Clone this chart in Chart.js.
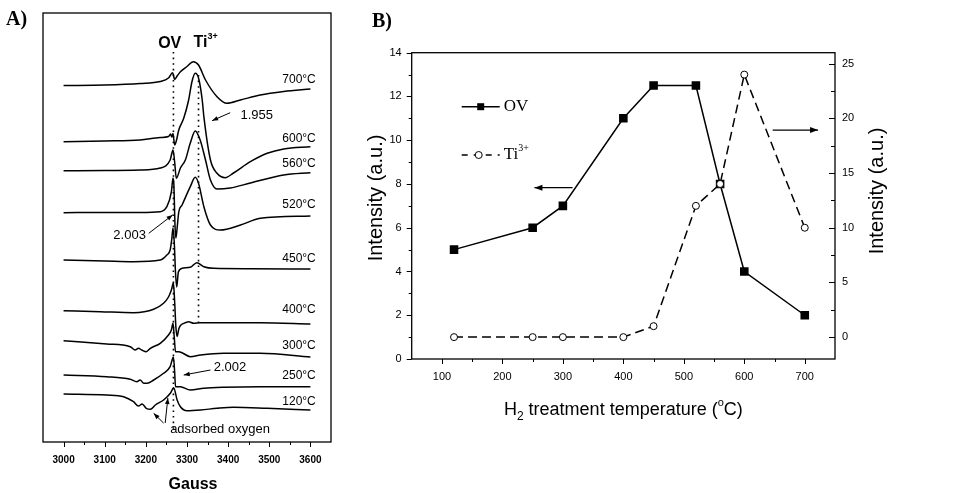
<!DOCTYPE html>
<html><head><meta charset="utf-8">
<script src="https://cdn.jsdelivr.net/npm/chart.js@4/dist/chart.umd.min.js"></script>
<style>
html,body{margin:0;padding:0;background:#fff;}
#wrap{position:relative;width:974px;height:493px;overflow:hidden;background:#fff;}
#ca{position:absolute;left:0;top:0;}
#cb{position:absolute;left:360px;top:0;}
</style></head><body>
<div id="wrap">
<canvas id="ca" width="360" height="493"></canvas>
<canvas id="cb" width="614" height="493"></canvas>
</div>
<script>
// ---------------- DATA: panel A (EPR spectra, Gauss vs. stacked intensity, arbitrary units) ----------------
const spec700 = [[3000,356.5],[3100,357],[3186,358.5],[3235,360.5],[3255,364],[3265,369.3],[3270,362.7],[3276,366],[3284,370.3],[3300,375.5],[3315,380.3],[3328,377],[3345,362],[3373,345.3],[3397,338.7],[3430,342],[3478,347],[3535,350.5],[3600,353]];
const spec600 = [[3000,300.3],[3100,301],[3186,302],[3235,304.5],[3255,305.5],[3260,308],[3263,305],[3266,308.5],[3270,297],[3274,301],[3280,312],[3292,323.7],[3304,342],[3312,360.3],[3320,368.7],[3328,364],[3337,342],[3341,325.3],[3357,282],[3373,268.7],[3393,264.3],[3413,269],[3454,280.3],[3495,288.7],[3535,293],[3600,295.3]];
const spec560 = [[3000,271.3],[3100,271.5],[3186,272],[3235,274],[3259,282],[3266,292],[3270,280],[3274,263.7],[3284,274],[3296,282],[3308,299],[3320,311],[3332,302],[3345,282],[3357,262],[3373,253],[3405,254],[3454,259],[3535,267],[3600,269.3]];
const spec520 = [[3000,229.3],[3100,229.5],[3186,229.5],[3235,230.3],[3251,235.3],[3262,250],[3266,264],[3268,258],[3271,215],[3273,204],[3276,214],[3280,230],[3288,237],[3308,255.3],[3320,264.7],[3328,258.7],[3341,235.3],[3357,217],[3381,212],[3430,217],[3478,223.7],[3600,226]];
const spec450 = [[3000,182],[3100,181],[3170,180.3],[3235,182],[3251,187],[3259,192],[3263,203],[3266,214],[3269,200],[3272,170],[3275,155],[3279,170],[3288,173.7],[3308,174.7],[3324,179.3],[3341,175.3],[3365,173.7],[3454,173.3],[3600,173]];
const spec400 = [[3000,131.3],[3089,130.3],[3170,129.3],[3219,132.7],[3243,138.7],[3255,145],[3262,152],[3267,159],[3270,140],[3273,115],[3276,105.5],[3280,113],[3284,116.5],[3292,118.7],[3304,120.3],[3316,118.7],[3332,119.3],[3478,119.3],[3600,118]];
const spec300 = [[3000,101.3],[3105,98],[3162,95.3],[3174,92],[3182,93.7],[3190,92],[3201,90.3],[3211,93.7],[3235,98.7],[3255,107],[3262,112],[3266,118.7],[3269,105],[3272,90.3],[3280,90.3],[3288,89.3],[3308,85.3],[3333,87],[3389,88.7],[3478,88.7],[3600,85]];
const spec250 = [[3000,67],[3105,65.3],[3162,62.7],[3178,60.3],[3186,62],[3195,58.7],[3203,58.7],[3219,62],[3243,68.7],[3259,75.3],[3267,85],[3270,70],[3272,55.3],[3284,55.3],[3308,52],[3341,53.7],[3389,54.7],[3478,55.3],[3600,55.3]];
const spec120 = [[3000,48],[3105,47],[3146,45.3],[3170,40.3],[3182,36],[3191,38],[3201,33.7],[3211,32.7],[3223,37],[3243,42],[3260,49],[3267.6,54.3],[3276,42],[3284,35.3],[3300,31.3],[3333,32],[3373,33.7],[3413,34.7],[3495,33.7],[3600,32]];
const specNames = ['700°C','600°C','560°C','520°C','450°C','400°C','300°C','250°C','120°C'];
const spectra = [spec700, spec600, spec560, spec520, spec450, spec400, spec300, spec250, spec120];
const ovMarkLine = [[3267,390],[3267,10]];
const tiMarkLine = [[3328,367],[3328,115]];
const gaussTicks = [3000,3100,3200,3300,3400,3500,3600];
const gaussMinor = [3050,3150,3250,3350,3450,3550];

// ---------------- DATA: panel B ----------------
const temps = [120,250,300,400,450,520,560,600,700];
const ovIntensity = [5,6,7,11,12.5,12.5,8,4,2];
const tiIntensity = [0,0,0,0,1,12,14,24,10];
const tempTicks = [100,200,300,400,500,600,700];
const tempMinor = [150,250,350,450,550,650];
const leftTicks = [0,2,4,6,8,10,12,14];
const leftMinor = [1,3,5,7,9,11,13];
const rightTicks = [0,5,10,15,20,25];
const rightMinor = [2.5,7.5,12.5,17.5,22.5];

// ---------------- helpers ----------------
const SANS = '"Liberation Sans", Arial, Helvetica, sans-serif';
const SERIF = '"Liberation Serif", "Times New Roman", serif';

function drawTickMarks(chart, specs){
  const ctx = chart.ctx, ca = chart.chartArea;
  ctx.save(); ctx.strokeStyle = '#000'; ctx.lineWidth = 1;
  for (const s of specs){
    const sc = chart.scales[s.id];
    for (const [vals, len] of [[s.major, s.majorLen],[s.minor, s.minorLen]]){
      for (const v of vals){
        const p = Math.round(sc.getPixelForValue(v)) + 0.5;
        ctx.beginPath();
        if (s.side === 'bottom'){ ctx.moveTo(p, ca.bottom); ctx.lineTo(p, ca.bottom + len*s.dir); }
        else if (s.side === 'left'){ ctx.moveTo(ca.left, p); ctx.lineTo(ca.left - len*s.dir, p); }
        else { ctx.moveTo(ca.right, p); ctx.lineTo(ca.right + len*s.dir, p); }
        ctx.stroke();
      }
    }
  }
  ctx.restore();
}
function arrow(ctx, x1, y1, x2, y2, head){
  ctx.beginPath(); ctx.moveTo(x1,y1); ctx.lineTo(x2,y2); ctx.stroke();
  const a = Math.atan2(y2-y1, x2-x1), w = head*0.38;
  const bx = x2 - head*Math.cos(a), by = y2 - head*Math.sin(a);
  ctx.beginPath(); ctx.moveTo(x2,y2);
  ctx.lineTo(bx + w*Math.sin(a), by - w*Math.cos(a));
  ctx.lineTo(bx - w*Math.sin(a), by + w*Math.cos(a));
  ctx.closePath(); ctx.fill();
}
// parts: [text, font, dy]
function rich(ctx, parts, x, y, align){
  let total = 0; const ws = [];
  for (const p of parts){ ctx.font = p[1]; const w = ctx.measureText(p[0]).width; ws.push(w); total += w; }
  let cx = align === 'center' ? x - total/2 : (align === 'right' ? x - total : x);
  ctx.textAlign = 'left'; ctx.textBaseline = 'middle';
  parts.forEach((p,i)=>{ ctx.font = p[1]; ctx.fillText(p[0], cx, y + (p[2]||0)); cx += ws[i]; });
}

// ---------------- Chart A ----------------
const datasetsA = spectra.map(s => ({
  data: s.map(p => ({x:p[0], y:p[1]})),
  borderColor:'#000', borderWidth:1.5, pointRadius:0, fill:false,
  cubicInterpolationMode:'monotone'
}));
[ovMarkLine, tiMarkLine].forEach(l => datasetsA.push({
  data: l.map(p => ({x:p[0], y:p[1]})),
  borderColor:'#000', borderWidth:1.6, borderDash:[1.6,4], pointRadius:0, fill:false
}));

const pluginA = {
  id:'annA',
  afterDraw(chart){
    const ctx = chart.ctx, ca = chart.chartArea, X = chart.scales.x, Y = chart.scales.y;
    const P = (g,h) => [X.getPixelForValue(g), Y.getPixelForValue(h)];
    ctx.save();
    ctx.strokeStyle = '#000'; ctx.lineWidth = 1.3;
    ctx.strokeRect(ca.left, ca.top, ca.right-ca.left, ca.bottom-ca.top);
    ctx.restore();
    drawTickMarks(chart, [{id:'x', side:'bottom', dir:1, major:gaussTicks, minor:gaussMinor, majorLen:5, minorLen:3}]);
    ctx.save(); ctx.fillStyle = '#000'; ctx.strokeStyle = '#000'; ctx.lineWidth = 1;
    // temperature labels
    const levels = [362,303.7,278.7,237,183.7,132,96,66,40.3];
    ctx.font = '12px ' + SANS; ctx.textAlign = 'right'; ctx.textBaseline = 'middle';
    specNames.forEach((n,i) => { const [x,y] = P(3613, levels[i]); ctx.fillText(n, x, y); });
    // OV / Ti3+
    let q = P(3258, 398.7); rich(ctx, [['OV','bold 16px '+SANS,0]], q[0], q[1], 'center');
    q = P(3316, 399); rich(ctx, [['Ti','bold 16px '+SANS,0],['3+','bold 9px '+SANS,-6]], q[0], q[1], 'left');
    // g-value labels
    q = P(3430, 327); rich(ctx, [['1.955','13px '+SANS,0]], q[0], q[1], 'left');
    let a = P(3405,329.3), b = P(3361,321.3); arrow(ctx, a[0],a[1],b[0],b[1],6);
    q = P(3121, 207); rich(ctx, [['2.003','13px '+SANS,0]], q[0], q[1], 'left');
    a = P(3207,208.7); b = P(3265,227); arrow(ctx, a[0],a[1],b[0],b[1],6);
    q = P(3365, 75); rich(ctx, [['2.002','13px '+SANS,0]], q[0], q[1], 'left');
    a = P(3357,72); b = P(3292,67); arrow(ctx, a[0],a[1],b[0],b[1],6);
    q = P(3259, 13); rich(ctx, [['adsorbed oxygen','13px '+SANS,0]], q[0], q[1], 'left');
    a = P(3243,19); b = P(3219,28.7); arrow(ctx, a[0],a[1],b[0],b[1],6);
    a = P(3247,19); b = P(3253.5,44); arrow(ctx, a[0],a[1],b[0],b[1],6);
    // axis title
    ctx.font = 'bold 16px ' + SANS; ctx.textAlign = 'center'; ctx.textBaseline = 'middle';
    ctx.fillText('Gauss', (ca.left+ca.right)/2 + 6, 485);
    // panel letter
    ctx.font = 'bold 20px ' + SERIF; ctx.textAlign = 'left';
    ctx.fillText('A)', 6, 20);
    ctx.restore();
  }
};

new Chart(document.getElementById('ca'), {
  type:'line',
  data:{ datasets: datasetsA },
  options:{
    responsive:false, animation:false, devicePixelRatio:1,
    layout:{ padding:{ left:43, right:29, top:13, bottom:0 } },
    plugins:{ legend:{display:false}, tooltip:{enabled:false} },
    scales:{
      x:{ type:'linear', min:2950, max:3650,
          afterFit: s => { s.height = 51; },
          afterBuildTicks: s => { s.ticks = gaussTicks.map(v => ({value:v})); },
          grid:{display:false, drawTicks:false}, border:{display:false},
          ticks:{ color:'#000', font:{size:10, weight:'bold', family:SANS}, padding:12, maxRotation:0, callback: v => String(v) } },
      y:{ type:'linear', min:0, max:429, display:false }
    }
  },
  plugins:[pluginA]
});

// ---------------- Chart B ----------------
const pluginB = {
  id:'annB',
  afterDraw(chart){
    const ctx = chart.ctx, ca = chart.chartArea, X = chart.scales.x, Y = chart.scales.y, Y2 = chart.scales.y2;
    ctx.save(); ctx.strokeStyle = '#000'; ctx.lineWidth = 1.3;
    ctx.strokeRect(ca.left, ca.top, ca.right-ca.left, ca.bottom-ca.top);
    ctx.restore();
    drawTickMarks(chart, [
      {id:'x', side:'bottom', dir:1, major:tempTicks, minor:tempMinor, majorLen:5, minorLen:3},
      {id:'y', side:'left', dir:1, major:leftTicks, minor:leftMinor, majorLen:5, minorLen:3},
      {id:'y2', side:'right', dir:-1, major:rightTicks, minor:rightMinor, majorLen:6, minorLen:4}
    ]);
    ctx.save(); ctx.fillStyle = '#000'; ctx.strokeStyle = '#000';
    // arrows pointing to the axes
    ctx.lineWidth = 1.2;
    arrow(ctx, X.getPixelForValue(316), Y.getPixelForValue(7.83), X.getPixelForValue(253), Y.getPixelForValue(7.83), 8);
    arrow(ctx, X.getPixelForValue(647), Y2.getPixelForValue(18.93), X.getPixelForValue(722), Y2.getPixelForValue(18.93), 8);
    // legend
    const lx = ca.left + 50, ly1 = 106.7, ly2 = 155;
    ctx.lineWidth = 1.5; ctx.setLineDash([]);
    ctx.beginPath(); ctx.moveTo(lx, ly1); ctx.lineTo(lx+38, ly1); ctx.stroke();
    ctx.fillRect(lx+19-3.5, ly1-3.5, 7, 7);
    ctx.setLineDash([6,6]);
    ctx.beginPath(); ctx.moveTo(lx, ly2); ctx.lineTo(lx+38, ly2); ctx.stroke();
    ctx.setLineDash([]);
    ctx.fillStyle = '#fff'; ctx.lineWidth = 1;
    ctx.beginPath(); ctx.arc(lx+17, ly2, 3.5, 0, Math.PI*2); ctx.fill(); ctx.stroke();
    ctx.fillStyle = '#000';
    rich(ctx, [['OV','17px '+SERIF,0]], lx+42, ly1, 'left');
    rich(ctx, [['Ti','17px '+SERIF,0],['3+','10px '+SERIF,-7]], lx+42, ly2, 'left');
    // axis titles
    ctx.font = '20px ' + SANS; ctx.textAlign = 'center'; ctx.textBaseline = 'middle';
    ctx.save(); ctx.translate(16, 198); ctx.rotate(-Math.PI/2); ctx.fillText('Intensity (a.u.)', 0, 0); ctx.restore();
    ctx.save(); ctx.translate(517, 191); ctx.rotate(-Math.PI/2); ctx.fillText('Intensity (a.u.)', 0, 0); ctx.restore();
    rich(ctx, [['H','18px '+SANS,0],['2','12px '+SANS,7],[' treatment temperature (','18px '+SANS,0],['o','11px '+SANS,-7],['C)','18px '+SANS,0]], (ca.left+ca.right)/2, 410, 'center');
    // panel letter
    ctx.font = 'bold 20px ' + SERIF; ctx.textAlign = 'left';
    ctx.fillText('B)', 12, 22);
    ctx.restore();
  }
};

new Chart(document.getElementById('cb'), {
  type:'line',
  data:{ datasets:[
    { label:'OV', data: temps.map((t,i)=>({x:t, y:ovIntensity[i]})), yAxisID:'y',
      borderColor:'#000', borderWidth:1.5, pointStyle:'rect', pointRadius:5, pointBackgroundColor:'#000', pointBorderColor:'#000', tension:0, order:1 },
    { label:'Ti3+', data: temps.map((t,i)=>({x:t, y:tiIntensity[i]})), yAxisID:'y2',
      borderColor:'#000', borderWidth:1.5, borderDash:[9,5], pointStyle:'circle', pointRadius:3.5, pointBackgroundColor:'#fff', pointBorderColor:'#000', pointBorderWidth:1, tension:0, order:0 }
  ]},
  options:{
    responsive:false, animation:false, devicePixelRatio:1,
    layout:{ padding:{ left:0, right:0, top:52.7, bottom:0 } },
    plugins:{ legend:{display:false}, tooltip:{enabled:false} },
    scales:{
      x:{ type:'linear', min:50, max:750,
          afterFit: s => { s.height = 134; },
          afterBuildTicks: s => { s.ticks = tempTicks.map(v => ({value:v})); },
          grid:{display:false, drawTicks:false}, border:{display:false},
          ticks:{ color:'#000', font:{size:11, family:SANS}, padding:11, maxRotation:0, callback: v => String(v) } },
      y:{ type:'linear', position:'left', min:0, max:14,
          afterFit: s => { s.width = 51.7; },
          afterBuildTicks: s => { s.ticks = leftTicks.map(v => ({value:v})); },
          grid:{display:false, drawTicks:false}, border:{display:false},
          ticks:{ color:'#000', font:{size:11, family:SANS}, padding:10, callback: v => String(v) } },
      y2:{ type:'linear', position:'right', min:-2, max:26,
          afterFit: s => { s.width = 139; },
          afterBuildTicks: s => { s.ticks = rightTicks.map(v => ({value:v})); },
          grid:{display:false, drawTicks:false}, border:{display:false},
          ticks:{ color:'#000', font:{size:11, family:SANS}, padding:7, callback: v => String(v) } }
    }
  },
  plugins:[pluginB]
});
</script>
</body></html>
